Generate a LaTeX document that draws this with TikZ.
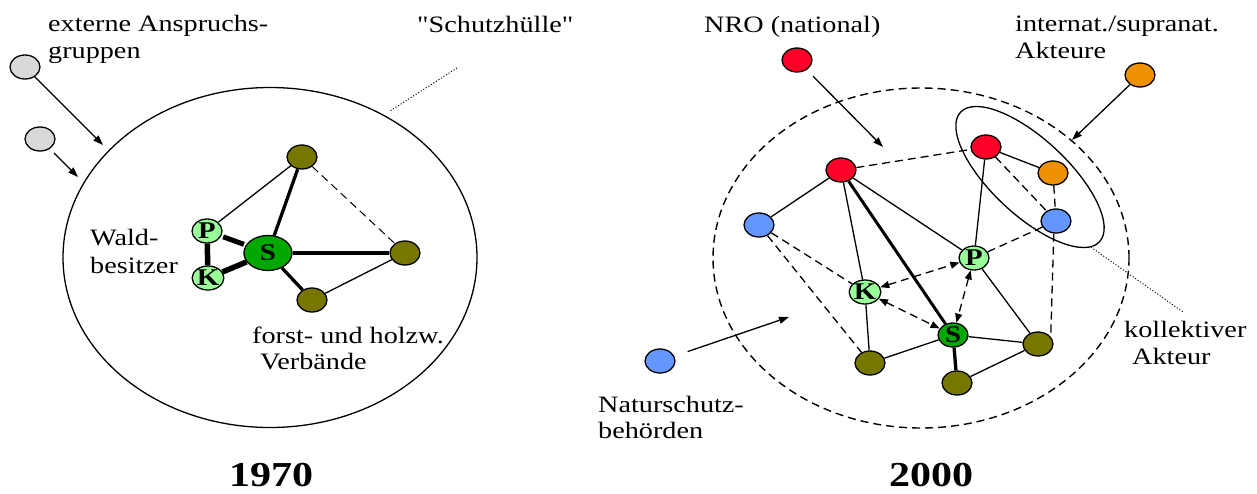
\documentclass[tikz,border=0pt]{standalone}
\usepackage{fontspec}
\setmainfont{Liberation Serif}[FakeStretch=1.2, Ligatures=TeXOff]
\usetikzlibrary{shapes.geometric,arrows.meta}

\definecolor{greynode}{RGB}{217,217,217}
\definecolor{olivenode}{RGB}{119,119,0}
\definecolor{paleg}{RGB}{153,255,153}
\definecolor{stategreen}{RGB}{0,168,0}
\definecolor{ngored}{RGB}{255,0,40}
\definecolor{authblue}{RGB}{100,150,255}
\definecolor{intlorange}{RGB}{238,145,0}

\begin{document}
\begin{tikzpicture}[x=1pt,y=-1pt,
  actor/.style={ellipse, draw, line width=1.3pt, minimum width=30pt, minimum height=24pt, inner sep=0pt},
  letter/.style={actor, font=\fontsize{24}{24}\selectfont\bfseries},
  lbl/.style={anchor=base west, inner sep=0pt, font=\fontsize{23.5}{28}\selectfont},
  year/.style={anchor=base, inner sep=0pt, font=\fontsize{35}{35}\selectfont\bfseries},
  tie/.style={line width=1.3pt},
  strong/.style={line width=3.3pt},
  heavy/.style={line width=5.5pt},
  loose/.style={line width=1.3pt, dash pattern=on 8pt off 5pt},
  mutual/.style={loose, {Triangle[length=9pt,width=7pt]}-{Triangle[length=9pt,width=7pt]}},
  influence/.style={line width=1.3pt, -{Triangle[length=10pt,width=7pt]}},
  pointer/.style={line width=1pt, dotted}
]
\useasboundingbox (0,0) rectangle (1257,493);

% ---------------- 1970 ----------------
\node[draw, ellipse, line width=1.3pt, minimum width=414pt, minimum height=340pt] (shell) at (270,257.5) {};

\node[actor, fill=greynode] (g1) at (25,67) {};
\node[actor, fill=greynode] (g2) at (40,139) {};
\coordinate (g1tip) at (103,145);
\coordinate (g2tip) at (78,177);
\draw[influence] (g1) -- (g1tip);
\draw[influence, shorten <=6pt] (g2) -- (g2tip);

\node[actor, fill=olivenode] (o1) at (302,157) {};
\node[actor, fill=olivenode] (o2) at (405,253) {};
\node[actor, fill=olivenode] (o3) at (312,300) {};
\node[letter, fill=paleg] (p1) at (207,231) {P};
\node[letter, fill=paleg] (k1) at (208,278) {K};
\node[letter, fill=stategreen, minimum width=48pt, minimum height=35pt] (s1) at (268,253) {S};

\draw[tie] (p1) -- (o1);
\draw[strong] (s1) -- (o1);
\draw[line width=1pt, dash pattern=on 8pt off 5pt] (o1) -- (o2);
\draw[strong] (s1) -- (o2);
\draw[strong] (s1) -- (o3);
\draw[tie] (o3) -- (o2);
\draw[heavy] (p1) -- (k1);
\draw[heavy] (k1) -- (s1);
\draw[line width=5pt, shorten <=2pt, shorten >=2pt] (p1) -- (s1);

\coordinate (sh-a) at (457,68);
\coordinate (sh-b) at (390,111);
\draw[pointer] (sh-a) -- (sh-b);

\node[lbl] (t1a) at (48,31) {externe Anspruchs-};
\node[lbl] (t1b) at (48,58) {gruppen};
\node[lbl] (t2) at (417,32) {"Schutzhülle"};
\node[lbl] (t3a) at (90,245) {Wald-};
\node[lbl] (t3b) at (90,273) {besitzer};
\node[lbl] (t4a) at (252,343) {forst- und holzw.};
\node[lbl] (t4b) at (260,369) {Verbände};
\node[year] (y1) at (271,486) {1970};

% ---------------- 2000 ----------------
\node[draw, ellipse, loose, line width=1.4pt, minimum width=416pt, minimum height=340pt] (arena) at (921,258) {};
\node[draw, ellipse, tie, minimum width=190pt, minimum height=76pt, rotate=-43] (kollektiv) at (1030,177) {};

\node[actor, fill=ngored] (r0) at (797,60) {};
\node[actor, fill=ngored] (r1) at (841,170) {};
\node[actor, fill=ngored] (r2) at (986,147) {};
\node[actor, fill=intlorange] (q0) at (1140,75) {};
\node[actor, fill=intlorange] (q1) at (1053,173) {};
\node[actor, fill=authblue] (b0) at (660,361) {};
\node[actor, fill=authblue] (b1) at (759,225) {};
\node[actor, fill=authblue] (b2) at (1056,221) {};
\node[letter, fill=paleg] (k2) at (865,292) {K};
\node[letter, fill=paleg] (p2) at (974,258) {P};
\node[letter, fill=stategreen] (s2) at (953,335) {S};
\node[actor, fill=olivenode] (o4) at (870,363) {};
\node[actor, fill=olivenode] (o5) at (957,383) {};
\node[actor, fill=olivenode] (o6) at (1038,344) {};

\coordinate (r0tip) at (883,147);
\coordinate (q0tip) at (1072,140);
\coordinate (b0tip) at (789,317);
\draw[influence, shorten <=9pt] (r0) -- (r0tip);
\draw[influence] (q0) -- (q0tip);
\draw[influence, shorten <=14pt] (b0) -- (b0tip);

\draw[tie] (r1) -- (b1);
\draw[loose] (r1) -- (r2);
\draw[tie] (r1) -- (k2);
\draw[line width=3pt] (r1) -- (s2);
\draw[tie] (r1) -- (p2);
\draw[tie] (r2) -- (q1);
\draw[loose] (r2) -- (b2);
\draw[loose] (q1) -- (b2);
\draw[tie] (r2) -- (p2);
\draw[loose] (b2) -- (p2);
\draw[loose] (b2.-100) -- (o6.30);
\draw[loose] (b1) -- (k2);
\draw[loose] (b1) -- (o4);
\draw[mutual] (k2) -- (p2);
\draw[mutual] (k2) -- (s2);
\draw[mutual] (p2) -- (s2);
\draw[tie] (k2) -- (o4);
\draw[tie] (o4) -- (s2);
\draw[tie] (s2) -- (o6);
\draw[strong] (s2) -- (o5);
\draw[tie] (o5) -- (o6);
\draw[tie] (p2) -- (o6);

\coordinate (kl) at (1183,312);
\draw[pointer] (kollektiv.-6) -- (kl);

\node[lbl] (t5) at (704,32) {NRO (national)};
\node[lbl] (t6a) at (1015,31) {internat./supranat.};
\node[lbl] (t6b) at (1015,58) {Akteure};
\node[lbl] (t7a) at (598,412) {Naturschutz-};
\node[lbl] (t7b) at (598,438) {behörden};
\node[lbl] (t8a) at (1124,337) {kollektiver};
\node[lbl] (t8b) at (1132,364) {Akteur};
\node[year] (y2) at (931,486) {2000};
\end{tikzpicture}
\end{document}
